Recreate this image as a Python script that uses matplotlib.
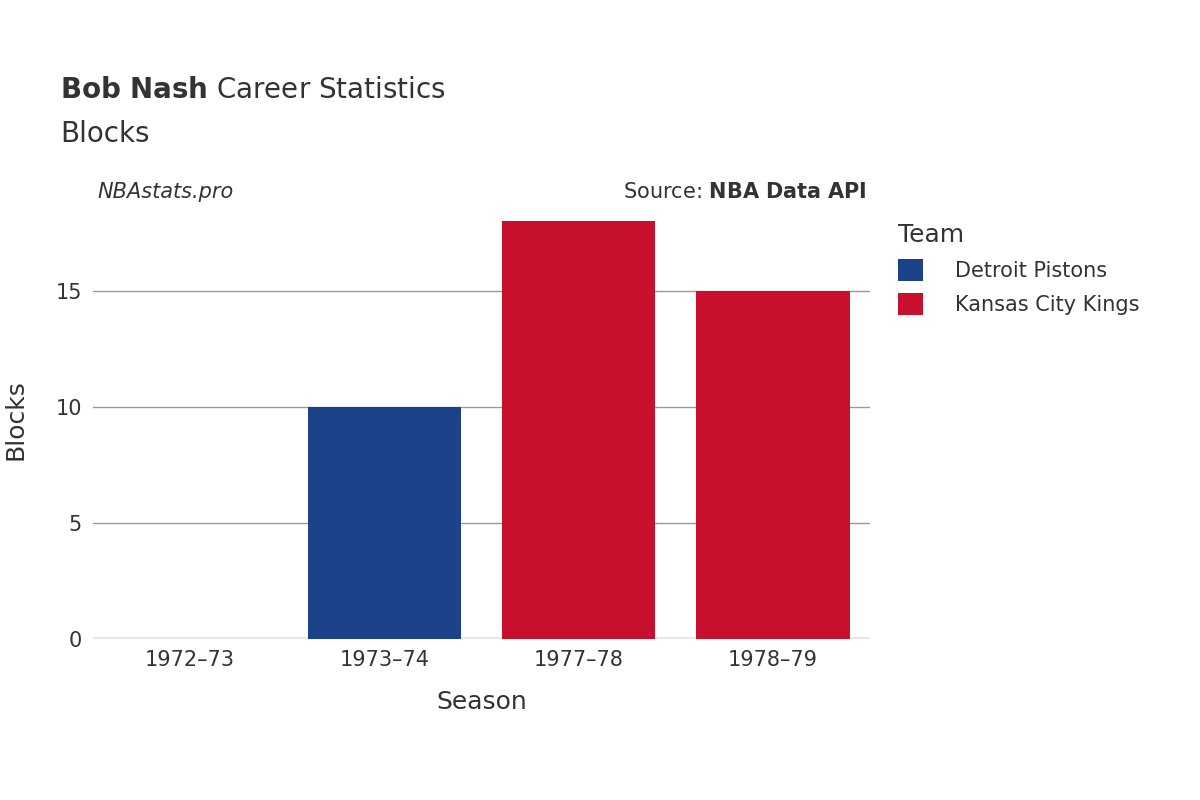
import matplotlib.pyplot as plt
from matplotlib.patches import Patch

seasons = ["1972\u201373", "1973\u201374", "1977\u201378", "1978\u201379"]
blocks = [0, 10, 18, 15]
teams = ["Detroit Pistons", "Detroit Pistons", "Kansas City Kings", "Kansas City Kings"]
team_colors = {"Detroit Pistons": "#1c4289", "Kansas City Kings": "#c8102e"}

fig = plt.figure(figsize=(12, 8), dpi=100)
ax = fig.add_axes([0.0775, 0.20125, 0.6475, 0.54875])

x = range(len(seasons))
ax.bar(x, blocks, width=0.79, color=[team_colors[t] for t in teams], zorder=3)

ax.set_xlim(-0.5, len(seasons) - 0.5)
ax.set_ylim(0, 18.9)
ax.set_yticks([0, 5, 10, 15])
ax.set_xticks(list(x))
ax.set_xticklabels(seasons)
ax.grid(axis="y", color="#999999", linewidth=1, zorder=0)
ax.axhline(0, color="#e8e8e8", linewidth=3, zorder=2)
for s in ax.spines.values():
    s.set_visible(False)
ax.tick_params(length=0, labelsize=15, colors="#333333", pad=8)
ax.set_xlabel("Season", fontsize=18, color="#333333", labelpad=14)
ax.set_ylabel("Blocks", fontsize=18, color="#333333", labelpad=20)

fig.text(0.05, 0.878, r"$\bf{Bob\ Nash}$ Career Statistics", fontsize=20, color="#333333",
         fontfamily="DejaVu Sans")
fig.text(0.05, 0.822, "Blocks", fontsize=20, color="#333333")
fig.text(0.081, 0.752, "NBAstats.pro", fontsize=15, style="italic", color="#333333")
fig.text(0.722, 0.752, r"Source: $\bf{NBA\ Data\ API}$", fontsize=15, color="#333333", ha="right")

handles = [Patch(facecolor=c, label=t) for t, c in team_colors.items()]
leg = fig.legend(handles=handles, title="Team", loc="upper left", bbox_to_anchor=(0.733, 0.745),
                 frameon=False, fontsize=15, title_fontsize=18, handlelength=1.2,
                 handleheight=1.2, labelspacing=0.6, handletextpad=1.5)
leg._legend_box.align = "left"
for t in leg.get_texts():
    t.set_color("#333333")
leg.get_title().set_color("#333333")

fig.savefig("out.png")
